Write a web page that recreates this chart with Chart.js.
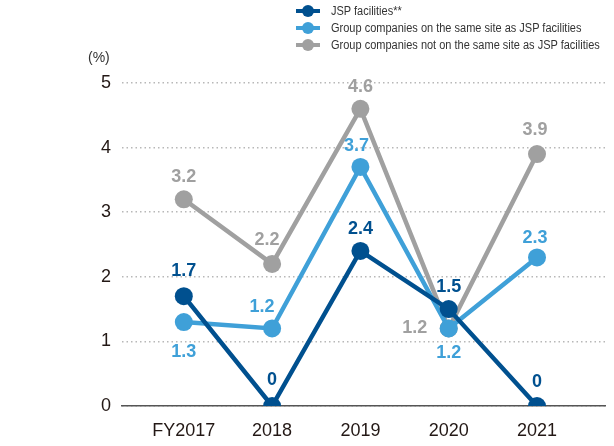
<!DOCTYPE html>
<html>
<head>
<meta charset="utf-8">
<script src="https://cdn.jsdelivr.net/npm/chart.js@4"></script>
<style>
  html, body { margin: 0; padding: 0; background: #fff; }
  #wrap { position: relative; width: 614px; height: 446px; }
  #legend { position: absolute; left: 296px; top: 2px; font-family: "Liberation Sans", Arial, sans-serif; font-size: 12.5px; color: #333; white-space: nowrap; }
  .item { height: 17px; display: flex; align-items: center; }
  .item span { display: inline-block; transform: scaleX(0.88); transform-origin: left center; }
  .mark { position: relative; width: 24px; height: 12px; margin-right: 11px; flex: none; }
  .mark .ln { position: absolute; left: 0; top: 4px; width: 24px; height: 4px; }
  .mark .dot { position: absolute; left: 6px; top: 0; width: 12px; height: 12px; border-radius: 50%; }
  #unit { position: absolute; left: 88px; top: 49px; font-family: "Liberation Sans", Arial, sans-serif; font-size: 14px; color: #333; }
</style>
</head>
<body>
<div id="wrap">
  <canvas id="myChart" width="614" height="446"></canvas>
  <div id="legend"></div>
  <div id="unit">(%)</div>
</div>
<script>
// categorias y series
const categorias = ['FY2017', '2018', '2019', '2020', '2021'];
const nombres = [
  'JSP facilities**',
  'Group companies on the same site as JSP facilities',
  'Group companies not on the same site as JSP facilities'
];
const jsp = [1.7, 0, 2.4, 1.5, 0];
const mismoSitio = [1.3, 1.2, 3.7, 1.2, 2.3];
const otroSitio = [3.2, 2.2, 4.6, 1.2, 3.9];
const colores = ['#00508f', '#3fa0d8', '#a0a0a0'];

// desplazamiento de las etiquetas (dx, dy) para cada punto
const desplaz = [
  [[0, -25], [0, -26], [0, -22], [0, -22], [0, -24]],
  [[0, 30], [-10, -21], [-4, -21], [0, 25], [-2, -19]],
  [[0, -22], [-5, -24], [0, -22], [-34, 0], [-2, -24]]
];

const ctx = document.getElementById('myChart').getContext('2d');
const fuente = '"Liberation Sans", Arial, sans-serif';

// leyenda en html
const leyenda = document.getElementById('legend');
nombres.forEach((n, i) => {
  leyenda.innerHTML += '<div class="item"><div class="mark"><div class="ln" style="background:' + colores[i] +
    '"></div><div class="dot" style="background:' + colores[i] + '"></div></div><span>' + n + '</span></div>';
});

// plugin para escribir los valores
const etiquetas = {
  id: 'etiquetas',
  afterDatasetsDraw(chart) {
    const c = chart.ctx;
    c.save();
    c.font = 'bold 18px ' + fuente;
    c.textAlign = 'center';
    c.textBaseline = 'middle';
    // dibujar de atras hacia delante
    for (let d = chart.data.datasets.length - 1; d >= 0; d--) {
      const meta = chart.getDatasetMeta(d);
      c.fillStyle = colores[d];
      meta.data.forEach((p, i) => {
        const v = chart.data.datasets[d].data[i].y;
        c.fillText(String(v), p.x + desplaz[d][i][0], p.y + desplaz[d][i][1]);
      });
    }
    c.restore();
  }
};

function serie(valores, i) {
  return {
    label: nombres[i],
    data: valores.map((v, k) => ({ x: k, y: v })),
    borderColor: colores[i],
    backgroundColor: colores[i],
    pointBackgroundColor: colores[i],
    pointBorderWidth: 0,
    pointRadius: 9,
    borderWidth: 4.5,
    tension: 0
  };
}

new Chart(ctx, {
  type: 'line',
  data: {
    datasets: [serie(jsp, 0), serie(mismoSitio, 1), serie(otroSitio, 2)]
  },
  options: {
    responsive: false,
    animation: false,
    layout: { padding: { top: 83, right: 8, left: 0, bottom: 0 } },
    plugins: {
      legend: { display: false },
      tooltip: { enabled: false }
    },
    scales: {
      x: {
        type: 'linear',
        min: -0.7,
        max: 4.77,
        grid: { display: false, drawTicks: false },
        border: { display: true, color: '#555', width: 1.5 },
        afterFit(s) { s.height = 40; },
        ticks: {
          stepSize: 1,
          includeBounds: false,
          padding: 14,
          color: '#231815',
          font: { family: fuente, size: 18 },
          callback: v => categorias[v] !== undefined && Number.isInteger(v) ? categorias[v] : ''
        }
      },
      y: {
        min: 0,
        max: 5,
        grid: { color: '#b8b8b8', lineWidth: 1.5, drawTicks: false },
        border: { display: false, dash: [1.5, 3] },
        afterFit(s) { s.width = 122; },
        ticks: {
          stepSize: 1,
          padding: 11,
          color: '#231815',
          font: { family: fuente, size: 18 }
        }
      }
    }
  },
  plugins: [etiquetas]
});
</script>
</body>
</html>
